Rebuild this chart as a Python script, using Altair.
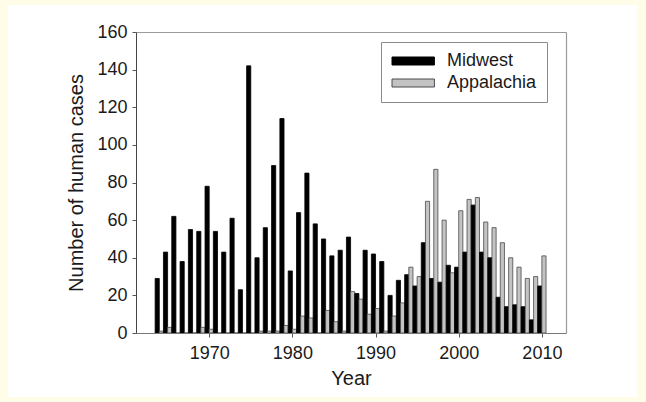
import altair as alt
import pandas as pd

years = list(range(1964, 2011))
midwest = [29, 43, 62, 38, 55, 54, 78, 54, 43, 61,
           23, 142, 40, 56, 89, 114, 33, 64, 85, 58,
           50, 41, 44, 51, 21, 44, 42, 38, 20, 28,
           31, 25, 48, 29, 27, 36, 35, 43, 68, 43,
           40, 19, 14, 15, 14, 7, 25]
appalachia = [1, 3, 0, 0, 0, 3, 2, 0, 0, 0,
              0, 0, 1, 1, 1, 4, 2, 9, 8, 0,
              12, 6, 1, 22, 18, 10, 13, 1, 9, 16,
              35, 30, 70, 87, 60, 32, 65, 71, 72, 59,
              56, 48, 40, 35, 29, 30, 41]
series_names = ["Midwest", "Appalachia"]
x_ticks = [1970, 1980, 1990, 2000, 2010]
y_ticks = [0, 20, 40, 60, 80, 100, 120, 140, 160]

rows = []
for yr, m, a in zip(years, midwest, appalachia):
    rows.append({"year": yr, "series": "Midwest", "cases": m})
    rows.append({"year": yr, "series": "Appalachia", "cases": a})
df = pd.DataFrame(rows)

W, H = 430, 301
FONT = "Liberation Sans"

xscale = alt.Scale(domain=[1961.2, 2012.9], nice=False, zero=False)
yscale = alt.Scale(domain=[0, 160], nice=False)

bg = alt.Chart(alt.Data(values=[{"k": 1}])).mark_rect(color="white").encode(
    x=alt.value(-128), x2=alt.value(501), y=alt.value(-27), y2=alt.value(365)
)

base = alt.Chart(df).transform_calculate(
    x0="datum.series == 'Midwest' ? datum.year - 0.5 : datum.year",
    x1="datum.series == 'Midwest' ? datum.year : datum.year + 0.5",
)

bars = base.mark_rect(strokeWidth=0.8).encode(
    x=alt.X("x0:Q", scale=xscale,
            axis=alt.Axis(values=x_ticks, format="d", title="Year", orient="bottom",
                          tickSize=4, labelPadding=7, titlePadding=6,
                          domainColor="#777777", zindex=1)),
    x2="x1:Q",
    y=alt.Y("cases:Q", scale=yscale,
            axis=alt.Axis(values=y_ticks, title="Number of human cases", orient="left",
                          tickSize=4, labelPadding=5, titlePadding=10,
                          domainColor="#444444", zindex=1)),
    y2=alt.datum(0),
    color=alt.Color("series:N",
                    scale=alt.Scale(domain=series_names, range=["#000000", "#c3c3c3"]),
                    legend=alt.Legend(title=None, orient="none", legendX=245, legendY=10,
                                      fillColor="white", strokeColor="#8a8a8a",
                                      padding=10, labelFontSize=18, labelFont=FONT,
                                      labelColor="#1a1a1a",
                                      symbolType="M-1,-0.5L4.3,-0.5L4.3,0.5L-1,0.5Z",
                                      symbolSize=256, symbolStrokeColor="#333333",
                                      symbolStrokeWidth=1, labelOffset=38, rowPadding=4)),
    stroke=alt.Stroke("series:N",
                      scale=alt.Scale(domain=series_names, range=["#000000", "#4a4a4a"]),
                      legend=None),
)

frame = base.mark_rect(opacity=0).encode(
    x=alt.X("x0:Q", scale=xscale,
            axis=alt.Axis(orient="top", labels=False, ticks=False, title=None,
                          domainColor="#9a9a9a", domainWidth=1.2, zindex=1)),
    y=alt.Y("cases:Q", scale=yscale,
            axis=alt.Axis(orient="right", labels=False, ticks=False, title=None,
                          domainColor="#9a9a9a", domainWidth=1.2, zindex=1)),
)

chart = alt.layer(bg, bars, frame).resolve_axis(
    x="independent", y="independent"
).properties(
    width=W, height=H,
    background="#fffde8",
    padding={"left": 136, "top": 32, "right": 80, "bottom": 69},
    autosize=alt.AutoSizeParams(type="none"),
).configure_view(
    stroke=None
).configure_axis(
    grid=False, labelFont=FONT, titleFont=FONT, labelFontSize=18, titleFontSize=20,
    titleFontWeight="normal", labelColor="#1a1a1a", titleColor="#1a1a1a",
    tickColor="#555555"
)

chart.save("out.html", embed_options={"renderer": "svg", "actions": False})
